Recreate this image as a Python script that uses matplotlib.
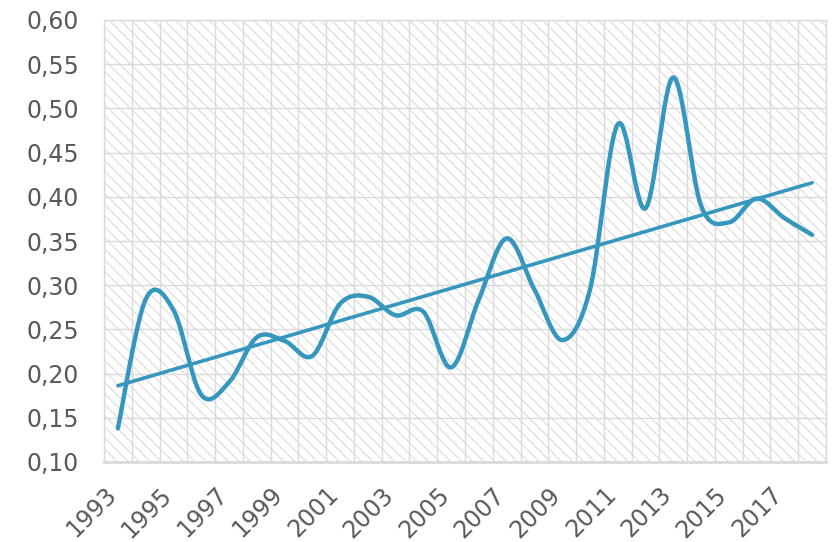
import numpy as np
import matplotlib
matplotlib.use("Agg")
import matplotlib.pyplot as plt
from matplotlib.patches import Rectangle
from matplotlib.transforms import ScaledTranslation

years = list(range(1993, 2019))
values = [0.138, 0.284, 0.272, 0.176, 0.190, 0.241, 0.237, 0.220, 0.279, 0.287,
          0.266, 0.270, 0.207, 0.284, 0.353, 0.295, 0.238, 0.295, 0.482, 0.387,
          0.535, 0.390, 0.371, 0.398, 0.376, 0.357]
tick_labels = [str(y) for y in years[::2]]
yticks = [0.10, 0.15, 0.20, 0.25, 0.30, 0.35, 0.40, 0.45, 0.50, 0.55, 0.60]

line_color = '#3597be'
grid_color = '#dadada'
text_color = '#595959'

plt.rcParams['font.family'] = ['DejaVu Sans']
plt.rcParams['hatch.color'] = '#e2e2e2'
plt.rcParams['hatch.linewidth'] = 1.0

fig = plt.figure(figsize=(8.33, 5.42), dpi=100)
ax = fig.add_axes([104/833, 1-462/542, (826-104)/833, (462-20)/542])

# hatched background
bg = Rectangle((0, 0), 1, 1, transform=ax.transAxes, facecolor='white',
               edgecolor='#e2e2e2', hatch='\\\\\\', linewidth=0, zorder=0)
ax.add_patch(bg)

x = np.arange(len(years))
y = np.array(values)

# Catmull-Rom style smoothing (like Excel smoothed line)
def smooth(xs, ys, n=30):
    px = np.concatenate([[xs[0]], xs, [xs[-1]]])
    py = np.concatenate([[ys[0]], ys, [ys[-1]]])
    outx, outy = [], []
    for i in range(1, len(px) - 2):
        p0 = np.array([px[i-1], py[i-1]]); p1 = np.array([px[i], py[i]])
        p2 = np.array([px[i+1], py[i+1]]); p3 = np.array([px[i+2], py[i+2]])
        c1 = p1 + (p2 - p0) / 6.0
        c2 = p2 - (p3 - p1) / 6.0
        t = np.linspace(0, 1, n, endpoint=(i == len(px) - 3))
        b = ((1-t)**3)[:, None]*p1 + (3*(1-t)**2*t)[:, None]*c1 + (3*(1-t)*t**2)[:, None]*c2 + (t**3)[:, None]*p2
        outx.extend(b[:, 0]); outy.extend(b[:, 1])
    return np.array(outx), np.array(outy)

sx, sy = smooth(x.astype(float), y)
ax.plot(sx, sy, color=line_color, lw=3.2, solid_capstyle='round', zorder=3)

# linear trend
coef = np.polyfit(x, y, 1)
ax.plot([x[0], x[-1]], np.polyval(coef, [x[0], x[-1]]), color=line_color,
        lw=2.6, solid_capstyle='round', zorder=3)

ax.set_xlim(-0.5, len(years) - 0.5)
ax.set_ylim(0.10, 0.60)
ax.set_yticks(yticks)
ax.set_yticklabels([f"{v:.2f}".replace('.', ',') for v in yticks])
ax.set_xticks(x[::2])
ax.set_xticklabels(tick_labels, rotation=45, ha='right', va='center',
                   rotation_mode='anchor')
ax.set_xticks(np.arange(-0.5, len(years), 1.0), minor=True)
ax.tick_params(axis='both', which='both', length=0, colors=text_color,
               labelsize=17)
ax.tick_params(axis='x', pad=21)
ax.tick_params(axis='y', pad=18)

shift = ScaledTranslation(-4/72, 0, fig.dpi_scale_trans)
for lab in ax.get_xticklabels():
    lab.set_transform(lab.get_transform() + shift)

ax.grid(True, axis='y', color=grid_color, lw=1.0, zorder=1)
ax.grid(True, axis='x', which='minor', color=grid_color, lw=1.0, zorder=1)
ax.grid(False, axis='x', which='major')
ax.set_axisbelow(True)
for s in ax.spines.values():
    s.set_color(grid_color)
    s.set_linewidth(1.0)
ax.spines['bottom'].set_linewidth(2)

fig.savefig('out.png', dpi=100)
